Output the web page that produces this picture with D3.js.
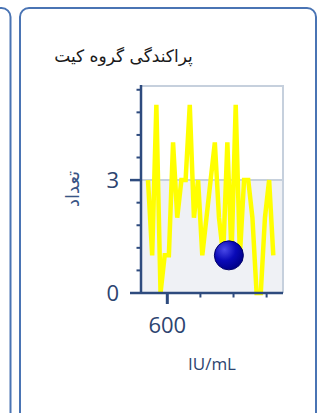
<!DOCTYPE html>
<html>
<head>
<meta charset="utf-8">
<script src="https://cdn.jsdelivr.net/npm/d3@7"></script>
<style>
  html, body { margin: 0; padding: 0; background: #ffffff; }
  svg { display: block; }
</style>
</head>
<body>
<svg id="chart" width="322" height="413"></svg>
<script>
// ---- data ----
const title = "پراکندگی گروه کیت";
const yLabel = "تعداد";
const xLabel = "IU/mL";
const countSeries = [3, 1, 5, 0, 1, 1, 4, 2, 3, 3, 5, 2, 3, 1, 2, 3, 4, 2, 1, 4, 1, 5, 1, 3, 3, 2, 0, 0, 2, 3, 1];
const markerValue = [786];
const markerCount = [1];
const xTicks = [600, 700, 800, 900];
const xTickLabels = ["600", "", "", ""];
const yMinorTicks = [0.6, 1.2, 1.8, 2.4, 3.6, 4.2, 4.8, 5.4];
const yMajorTicks = [0, 3];
const yTickLabels = ["0", "3"];
const thresholdValue = [3];

// ---- layout ----
const svg = d3.select("#chart");
const plot = { left: 141, right: 283, top: 86, bottom: 293 };
const axisColor = "#2e4b7e";
const textColor = "#2d4470";
const cardColor = "#4a74b4";
const gridColor = "#c6d0dd";

// cards
svg.append("rect").attr("x", -300).attr("y", 8).attr("width", 310.5).attr("height", 430)
  .attr("rx", 9).attr("fill", "none").attr("stroke", cardColor).attr("stroke-width", 2);
svg.append("rect").attr("x", 20).attr("y", 8).attr("width", 296).attr("height", 430)
  .attr("rx", 9).attr("fill", "#fff").attr("stroke", cardColor).attr("stroke-width", 2);

// title
svg.append("text").attr("x", 123.5).attr("y", 62).attr("text-anchor", "middle")
  .attr("font-family", "'DejaVu Sans', 'Noto Sans', sans-serif").attr("font-size", 17)
  .attr("fill", "#1a1a1a").text(title);

// scales
const x = d3.scaleLinear().domain([520.5, 949.5]).range([plot.left, plot.right]);
const y = d3.scaleLinear().domain([0, 5.5]).range([plot.bottom, plot.top]);
const idx = d3.scalePoint().domain(d3.range(countSeries.length)).range([148, 273.3]);

// background zones
svg.append("rect").attr("x", plot.left).attr("y", y(thresholdValue[0]))
  .attr("width", plot.right - plot.left).attr("height", y(0) - y(thresholdValue[0]))
  .attr("fill", "#eff1f5");
// plot border (top & right)
svg.append("path")
  .attr("d", `M${plot.left},${plot.top}H${plot.right}V${plot.bottom}`)
  .attr("fill", "none").attr("stroke", gridColor).attr("stroke-width", 2);
// threshold line
svg.append("line").attr("x1", plot.left).attr("x2", plot.right)
  .attr("y1", y(thresholdValue[0])).attr("y2", y(thresholdValue[0]))
  .attr("stroke", gridColor).attr("stroke-width", 2);

// yellow line
const line = d3.line().x((d, i) => idx(i)).y(d => y(d));
svg.append("path").datum(countSeries).attr("d", line)
  .attr("fill", "none").attr("stroke", "#ffff00").attr("stroke-width", 4.5)
  .attr("stroke-linejoin", "miter").attr("stroke-miterlimit", 3);

// gradient marker
const defs = svg.append("defs");
const grad = defs.append("radialGradient").attr("id", "ball")
  .attr("cx", "35%").attr("cy", "30%").attr("r", "70%");
grad.append("stop").attr("offset", "0%").attr("stop-color", "#4a4ae8");
grad.append("stop").attr("offset", "55%").attr("stop-color", "#0a0ab8");
grad.append("stop").attr("offset", "100%").attr("stop-color", "#00008c");
svg.selectAll("circle.marker").data(markerValue).enter().append("circle")
  .attr("class", "marker")
  .attr("cx", d => x(d)).attr("cy", (d, i) => y(markerCount[i]))
  .attr("r", 14.5).attr("fill", "url(#ball)").attr("stroke", "#00006a").attr("stroke-width", 1);

// y axis
const yAxisG = svg.append("g");
yAxisG.append("line").attr("x1", plot.left).attr("x2", plot.left)
  .attr("y1", plot.top - 1).attr("y2", plot.bottom)
  .attr("stroke", axisColor).attr("stroke-width", 2.5);
yAxisG.selectAll("line.minor").data(yMinorTicks).enter().append("line")
  .attr("class", "minor").attr("x1", plot.left - 4.5).attr("x2", plot.left)
  .attr("y1", d => y(d)).attr("y2", d => y(d))
  .attr("stroke", axisColor).attr("stroke-width", 2);
yAxisG.selectAll("line.major").data(yMajorTicks).enter().append("line")
  .attr("class", "major").attr("x1", plot.left - 11).attr("x2", plot.left)
  .attr("y1", d => y(d)).attr("y2", d => y(d))
  .attr("stroke", axisColor).attr("stroke-width", 2.5);
yAxisG.selectAll("text").data(yMajorTicks).enter().append("text")
  .attr("x", 119).attr("y", d => y(d)).attr("dy", "0.36em")
  .attr("text-anchor", "end").attr("font-family", "'Open Sans', sans-serif")
  .attr("font-size", 22).attr("fill", textColor)
  .text((d, i) => yTickLabels[i]);

// x axis
const xAxisG = svg.append("g");
xAxisG.append("line").attr("x1", plot.left).attr("x2", plot.right)
  .attr("y1", plot.bottom).attr("y2", plot.bottom)
  .attr("stroke", axisColor).attr("stroke-width", 2.5);
xAxisG.selectAll("line.tick").data(xTicks).enter().append("line")
  .attr("class", "tick")
  .attr("x1", d => x(d)).attr("x2", d => x(d))
  .attr("y1", plot.bottom).attr("y2", (d, i) => plot.bottom + (xTickLabels[i] ? 11 : 4.5))
  .attr("stroke", axisColor).attr("stroke-width", (d, i) => xTickLabels[i] ? 3 : 2);
xAxisG.selectAll("text").data(xTicks).enter().append("text")
  .attr("x", d => x(d)).attr("y", 333)
  .attr("text-anchor", "middle").attr("font-family", "'Open Sans', sans-serif")
  .attr("font-size", 22).attr("fill", textColor)
  .text((d, i) => xTickLabels[i]);

// axis titles
svg.append("text").attr("x", 212).attr("y", 370).attr("text-anchor", "middle")
  .attr("font-family", "'Open Sans', sans-serif").attr("font-size", 17)
  .attr("fill", textColor).text(xLabel);
svg.append("text").attr("transform", "translate(79,189) rotate(-90)")
  .attr("text-anchor", "middle")
  .attr("font-family", "'DejaVu Sans', 'Noto Sans', sans-serif").attr("font-size", 18)
  .attr("fill", "#3a5585").text(yLabel);
</script>
</body>
</html>
